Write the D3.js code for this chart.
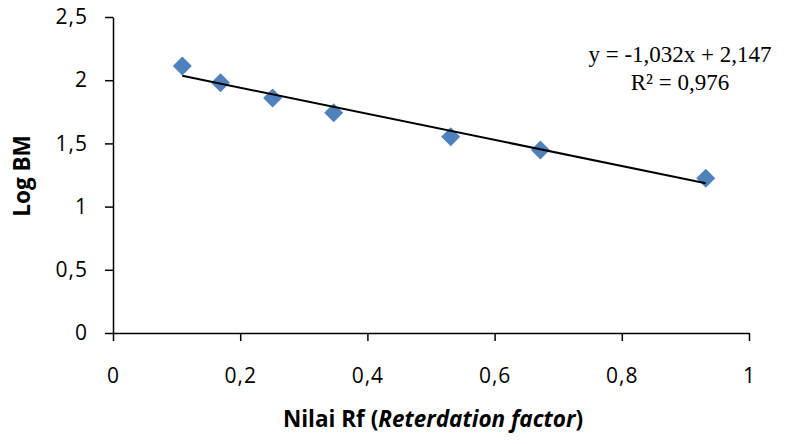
<!DOCTYPE html>
<html>
<head>
<meta charset="utf-8">
<script src="https://cdn.jsdelivr.net/npm/d3@7"></script>
<style>
	body { margin: 0; background: #fff; }
	svg { display: block; }
	.tick text { font-family: "Open Sans", sans-serif; font-size: 21px; letter-spacing: 1px; fill: #000; }
	.axis-title { font-family: "Open Sans", sans-serif; font-weight: bold; font-size: 22.5px; fill: #000; }
	.eq { font-family: "Liberation Serif", "Times New Roman", serif; font-size: 23px; fill: #000; }
</style>
</head>
<body>
<svg width="785" height="444"></svg>
<script>
// Data
const rfValues = [0.109, 0.169, 0.251, 0.347, 0.531, 0.672, 0.932];
const logBM = [2.113, 1.979, 1.86, 1.742, 1.552, 1.447, 1.225];
const xTicks = [0, 0.2, 0.4, 0.6, 0.8, 1];
const yTicks = [0, 0.5, 1, 1.5, 2, 2.5];
// linear trend (from equation label)
const trendSlope = -1.032;
const trendIntercept = 2.147;
const eqLines = ["y = -1,032x + 2,147", "R² = 0,976"];

const points = rfValues.map((x, i) => ({ x: x, y: logBM[i] }));

const svg = d3.select("svg");
const margin = { left: 113, right: 36, top: 17, bottom: 111 };
const width = 785 - margin.left - margin.right,
	height = 444 - margin.top - margin.bottom;

// comma as decimal separator
const locale = d3.formatLocale({ decimal: ",", thousands: ".", grouping: [3], currency: ["", ""] });
const fmt = (d) => locale.format("~g")(d);

const xScale = d3.scaleLinear().domain([0, 1]).range([0, width]);
const yScale = d3.scaleLinear().domain([0, 2.5]).range([height, 0]);

const g = svg.append("g").attr("transform", `translate(${margin.left}, ${margin.top})`);

g.append("g")
	.attr("transform", `translate(0, ${height})`)
	.call(d3.axisBottom(xScale).tickValues(xTicks).tickFormat(fmt).tickSize(8).tickSizeOuter(0).tickPadding(27));

g.append("g")
	.call(d3.axisLeft(yScale).tickValues(yTicks).tickFormat(fmt).tickSize(8).tickSizeOuter(0).tickPadding(17));

g.selectAll(".domain, .tick line").attr("stroke", "#000").attr("stroke-width", 1.5);

// markers
g.selectAll(".pt")
	.data(points)
	.enter()
	.append("path")
	.attr("class", "pt")
	.attr("d", d3.symbol(d3.symbolSquare, 180))
	.attr("transform", (d) => `translate(${xScale(d.x)}, ${yScale(d.y)}) rotate(45)`)
	.attr("fill", "#4F81BD");

// trendline drawn over the points
const xMin = d3.min(rfValues), xMax = d3.max(rfValues);
g.append("line")
	.attr("x1", xScale(xMin))
	.attr("y1", yScale(trendSlope * xMin + trendIntercept))
	.attr("x2", xScale(xMax))
	.attr("y2", yScale(trendSlope * xMax + trendIntercept))
	.attr("stroke", "#000")
	.attr("stroke-width", 2);

// equation label
svg.selectAll(".eq")
	.data(eqLines)
	.enter()
	.append("text")
	.attr("class", "eq")
	.attr("x", 680)
	.attr("y", (d, i) => 62 + i * 28)
	.attr("text-anchor", "middle")
	.text((d) => d);

// axis titles
const xt = svg.append("text")
	.attr("class", "axis-title")
	.attr("x", 433)
	.attr("y", 427)
	.attr("text-anchor", "middle");
xt.append("tspan").text("Nilai Rf (");
xt.append("tspan").style("font-style", "italic").text("Reterdation factor");
xt.append("tspan").text(")");

svg.append("text")
	.attr("class", "axis-title")
	.attr("transform", `translate(30, 176) rotate(-90)`)
	.attr("text-anchor", "middle")
	.text("Log BM");
</script>
</body>
</html>
